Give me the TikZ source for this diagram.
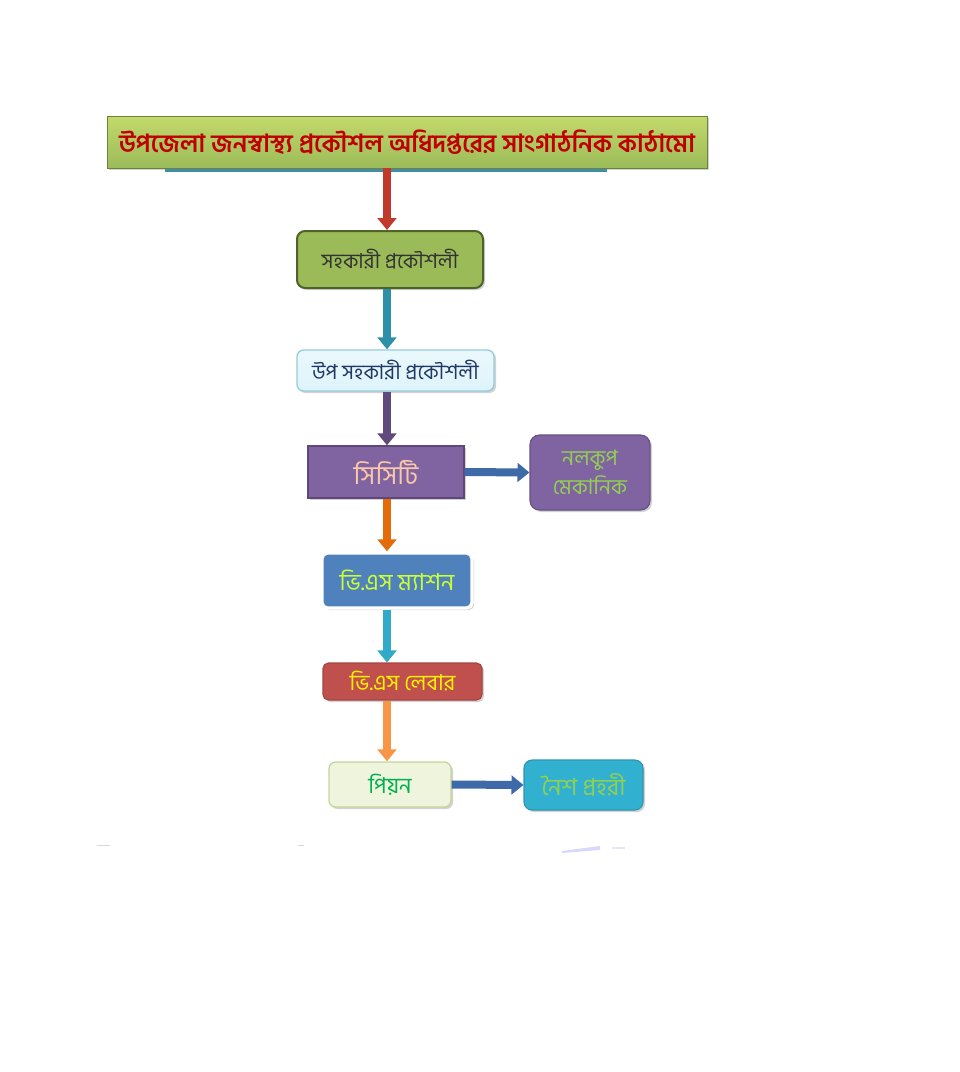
\documentclass[tikz,border=0pt]{standalone}
\usepackage{fontspec}
\usetikzlibrary{arrows.meta,shadows}
\newfontfamily\bn[Script=Bengali]{Hind Siliguri}
\definecolor{tgreenA}{HTML}{C3D96B}
\definecolor{tgreenB}{HTML}{9BBB59}
\definecolor{tred}{HTML}{C00000}
\definecolor{olive}{HTML}{9BBB59}
\definecolor{oliveD}{HTML}{4F6228}
\definecolor{lcyan}{HTML}{DDF4FB}
\definecolor{lcyanD}{HTML}{93CDDD}
\definecolor{navyT}{HTML}{1F3864}
\definecolor{purp}{HTML}{8064A2}
\definecolor{purpD}{HTML}{5F4879}
\definecolor{peach}{HTML}{FAC8A8}
\definecolor{lgreen}{HTML}{92D050}
\definecolor{bluebox}{HTML}{4F81BD}
\definecolor{ygreen}{HTML}{CCFF33}
\definecolor{redbox}{HTML}{C0504D}
\definecolor{paleg}{HTML}{EEF5DC}
\definecolor{palegD}{HTML}{C3D69B}
\definecolor{dgreen}{HTML}{00B050}
\definecolor{tealbox}{HTML}{31B0CF}
\definecolor{arRed}{HTML}{C0392B}
\definecolor{arTeal}{HTML}{2E8FA8}
\definecolor{arPurp}{HTML}{604A7B}
\definecolor{arOrange}{HTML}{E36C0A}
\definecolor{arCyan}{HTML}{31A9C8}
\definecolor{arOr2}{HTML}{F79646}
\definecolor{arBlue}{HTML}{3E6AA8}
\definecolor{stripB}{HTML}{3A8FB0}
\begin{document}
\begin{tikzpicture}[x=0.75pt,y=-0.75pt,
  box/.style={inner sep=0pt,align=center,drop shadow={shadow xshift=1.5pt,shadow yshift=-1.5pt,opacity=0.35}},
  conn/.style={line width=6pt,-{Triangle[width=14pt,length=9pt]}}]
\useasboundingbox (0,0) rectangle (960,1072);
\fill[white] (0,0) rectangle (960,1072);
\coordinate (axis) at (387,0);
% strip under title
\fill[stripB] (165,164) rectangle (607,172);
\node[box,minimum width=450pt,minimum height=39pt,top color=tgreenA,bottom color=tgreenB,draw=tgreenB!70!black,line width=0.6pt,
  font=\bn\bfseries\fontsize{18.7}{22}\selectfont,text=tred]
  (title) at (407,142) {উপজেলা জনস্বাস্থ্য প্রকৌশল অধিদপ্তরের সাংগাঠনিক কাঠামো};
\node[box,minimum width=139.5pt,minimum height=42.75pt,rounded corners=6pt,fill=olive,draw=oliveD,line width=1.5pt,
  font=\bn\fontsize{15.5}{18}\selectfont,text=black!80]
  (b2) at (390,259.5) {সহকারী প্রকৌশলী};
\node[box,minimum width=147.75pt,minimum height=30.75pt,rounded corners=5pt,top color=lcyan!60,bottom color=lcyan,draw=lcyanD,line width=1pt,
  font=\bn\fontsize{15.5}{18}\selectfont,text=navyT]
  (b3) at (395.5,370.5) {উপ সহকারী প্রকৌশলী};
\node[box,minimum width=117pt,minimum height=39pt,fill=purp,draw=purpD,line width=1pt,
  font=\bn\fontsize{19.5}{22}\selectfont,text=peach]
  (b4) at (386,472) {সিসিটি};
\node[box,minimum width=90pt,minimum height=56.25pt,rounded corners=7pt,fill=purp,draw=purp!80!black,line width=0.8pt,
  font=\bn\fontsize{16}{22}\selectfont,text=lgreen]
  (b5) at (590,472.5) {নলকুপ\\মেকানিক};
\node[box,minimum width=112.5pt,minimum height=41.25pt,rounded corners=4pt,fill=bluebox,draw=white,line width=2.5pt,
  font=\bn\fontsize{17.5}{20}\selectfont,text=ygreen]
  (b6) at (397,580.5) {ভি.এস ম্যাশন};
\node[box,minimum width=119.25pt,minimum height=27.75pt,rounded corners=4pt,fill=redbox,draw=redbox!85!black,line width=0.8pt,
  font=\bn\fontsize{16.5}{19}\selectfont,text=yellow]
  (b7) at (402.5,681.5) {ভি.এস লেবার};
\node[box,minimum width=91.5pt,minimum height=33.75pt,rounded corners=5pt,fill=paleg,draw=palegD,line width=1pt,
  font=\bn\fontsize{16.5}{19}\selectfont,text=dgreen]
  (b8) at (390,784.5) {পিয়ন};
\node[box,minimum width=89.25pt,minimum height=37.5pt,rounded corners=6pt,fill=tealbox,draw=tealbox!85!black,line width=0.8pt,
  font=\bn\fontsize{17.5}{20}\selectfont,text=lgreen]
  (b9) at (583.5,785) {নৈশ প্রহরী};
% connectors
\draw[conn,arRed] (title.south -| axis) -- (b2.north -| axis);
\draw[conn,arTeal] (b2.south -| axis) -- (b3.north -| axis);
\draw[conn,arPurp] (b3.south -| axis) -- (b4.north -| axis);
\draw[conn,arOrange] (b4.south -| axis) -- (b6.north -| axis);
\draw[conn,arCyan] (b6.south -| axis) -- (b7.north -| axis);
\draw[conn,arOr2] (b7.south -| axis) -- (b8.north -| axis);
\draw[conn,arBlue] (b4.east) -- (b5.west);
\draw[conn,arBlue] (b8.east) -- (b9.west);
% faint marks
\fill[blue!25,opacity=0.6] (562,851) -- (600,846) -- (600,850) -- (562,853) -- cycle;
\fill[blue!20,opacity=0.5] (612,847) rectangle (625,849);
\fill[gray!30] (97,845) rectangle (110,846);
\fill[gray!30] (298,845) rectangle (304,846);
\end{tikzpicture}
\end{document}
